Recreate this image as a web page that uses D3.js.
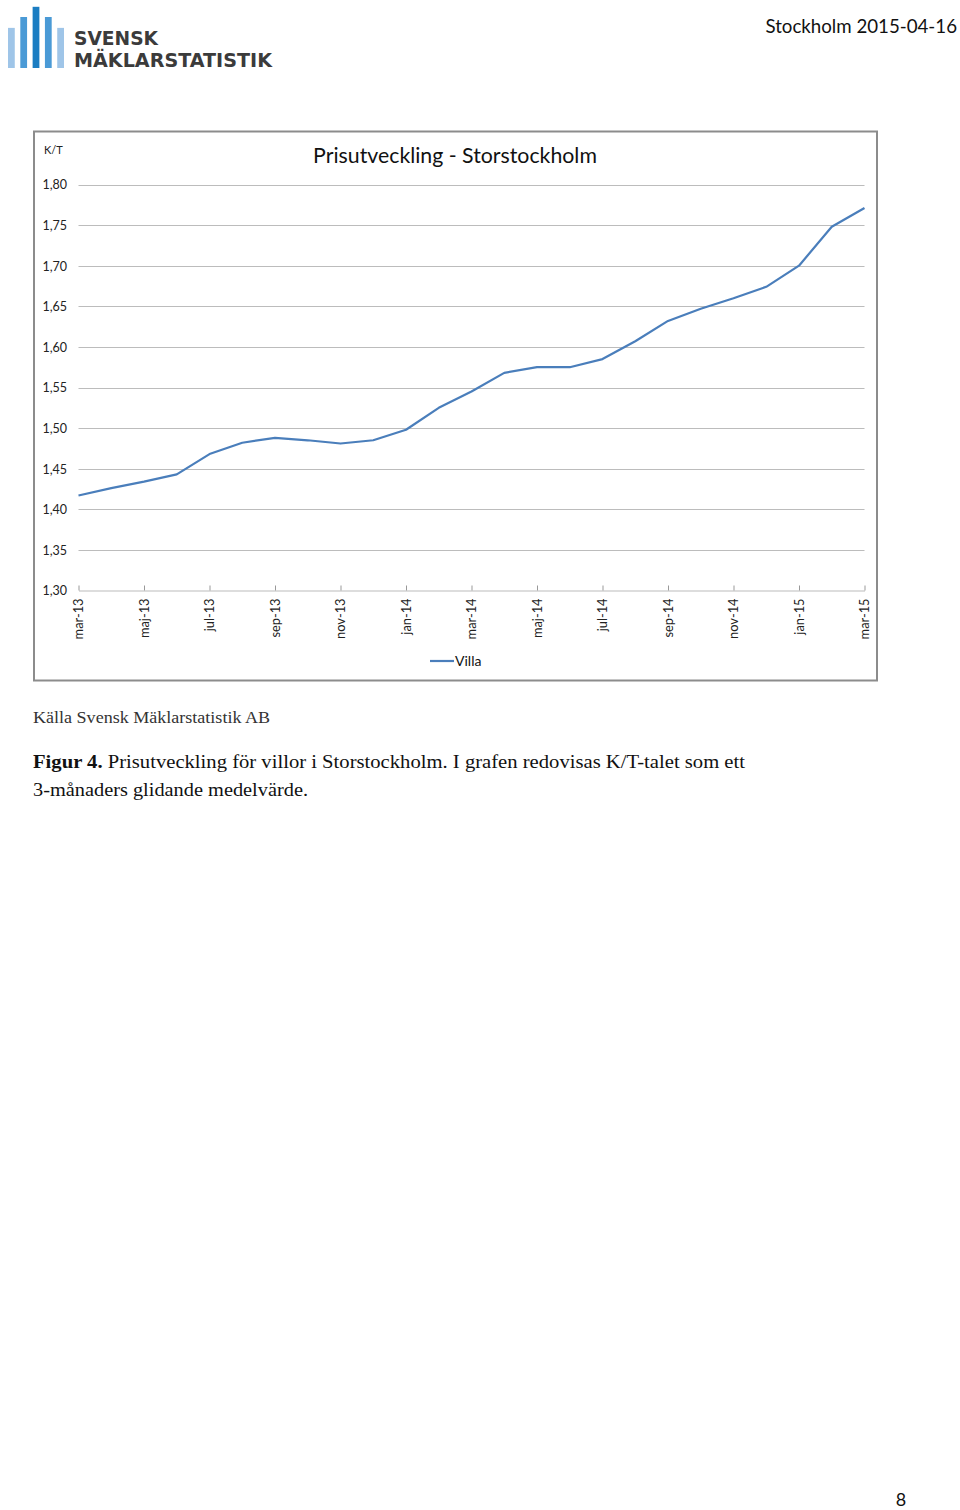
<!DOCTYPE html>
<html>
<head>
<meta charset="utf-8">
<script src="https://cdn.jsdelivr.net/npm/d3@7/dist/d3.min.js"></script>
<style>
html,body{margin:0;padding:0;background:#fff;}
svg{display:block;}
</style>
</head>
<body>
<script>
// ---- data ----
const months = ["mar-13","apr-13","maj-13","jun-13","jul-13","aug-13","sep-13","okt-13","nov-13","dec-13",
  "jan-14","feb-14","mar-14","apr-14","maj-14","jun-14","jul-14","aug-14","sep-14","okt-14","nov-14","dec-14",
  "jan-15","feb-15","mar-15"];
const villa = [1.417,1.426,1.434,1.443,1.468,1.482,1.488,1.485,1.481,1.485,
  1.498,1.525,1.545,1.568,1.575,1.575,1.585,1.607,1.632,1.647,1.660,1.674,
  1.700,1.748,1.771];
const tickLabels = ["mar-13","maj-13","jul-13","sep-13","nov-13","jan-14","mar-14","maj-14","jul-14","sep-14","nov-14","jan-15","mar-15"];
const yTicks = [1.30,1.35,1.40,1.45,1.50,1.55,1.60,1.65,1.70,1.75,1.80];
const seriesName = "Villa";
const chartTitle = "Prisutveckling - Storstockholm";
const yUnit = "K/T";
const logoBars = [0.59, 0.75, 0.90, 0.75, 0.59];
const logoShades = ["#9fc5e8","#4a9ad6","#1b7dc2","#4a9ad6","#9fc5e8"];

const W = 960, H = 1510;
const svg = d3.select("body").append("svg").attr("width", W).attr("height", H);
const sans = "Lato, 'Open Sans', sans-serif";
const serif = "'Liberation Serif', 'DejaVu Serif', serif";

// ---- logo ----
const lx = d3.scaleBand().domain(d3.range(logoBars.length)).range([8, 64]).paddingInner(0.45);
const ly = d3.scaleLinear().domain([0, 1]).range([68, 0]);
svg.append("g").selectAll("rect").data(logoBars).join("rect")
  .attr("x", (d,i) => lx(i)).attr("width", lx.bandwidth())
  .attr("y", d => ly(d)).attr("height", d => 68 - ly(d))
  .attr("fill", (d,i) => logoShades[i]);
svg.append("text").attr("x", 74).attr("y", 45).text("SVENSK")
  .attr("font-family", "'DejaVu Sans', sans-serif").attr("font-weight", "bold")
  .attr("font-size", 20).attr("fill", "#3b3b3b")
  .attr("textLength", 84).attr("lengthAdjust", "spacingAndGlyphs");
svg.append("text").attr("x", 74).attr("y", 67).text("MÄKLARSTATISTIK")
  .attr("font-family", "'DejaVu Sans', sans-serif").attr("font-weight", "bold")
  .attr("font-size", 20).attr("fill", "#3b3b3b")
  .attr("textLength", 198).attr("lengthAdjust", "spacingAndGlyphs");

// header
svg.append("text").attr("x", 957).attr("y", 33).attr("text-anchor", "end")
  .attr("font-family", sans).attr("font-size", 18.7).attr("fill", "#111")
  .text("Stockholm 2015-04-16");

// ---- chart frame ----
svg.append("rect").attr("x", 34).attr("y", 131.5).attr("width", 843).attr("height", 549)
  .attr("fill", "#fff").attr("stroke", "#8c8c8c").attr("stroke-width", 2);

const x = d3.scalePoint().domain(months).range([78.5, 864.5]);
const y = d3.scaleLinear().domain([1.30, 1.80]).range([590.5, 184.5]);

// gridlines
svg.append("g").selectAll("line").data(yTicks.filter(t => t > 1.30)).join("line")
  .attr("x1", 78.5).attr("x2", 864.5)
  .attr("y1", d => Math.round(y(d)) + 0.5).attr("y2", d => Math.round(y(d)) + 0.5)
  .attr("stroke", "#bcbcbc").attr("stroke-width", 1.2);

// y axis labels
const yAxis = d3.axisLeft(y).tickValues(yTicks).tickSize(0).tickPadding(0)
  .tickFormat(d => d3.format(".2f")(d).replace(".", ","));
const gy = svg.append("g").attr("transform", "translate(67,0)").call(yAxis);
gy.select(".domain").remove();
gy.selectAll("text").attr("font-family", sans).attr("font-size", 12.5).attr("fill", "#222").attr("dy", "0.35em");

// x axis
const xAxis = d3.axisBottom(x).tickValues(tickLabels).tickSizeInner(-5).tickSizeOuter(0).tickPadding(0);
const gx = svg.append("g").attr("transform", "translate(0,590.5)").call(xAxis);
gx.select(".domain").attr("stroke", "#bcbcbc").attr("stroke-width", 1.2);
gx.selectAll(".tick line").attr("stroke", "#999");
gx.selectAll("text")
  .attr("font-family", sans).attr("font-size", 12.8).attr("fill", "#222")
  .attr("transform", "rotate(-90)")
  .attr("text-anchor", "end").attr("x", -8).attr("y", 0).attr("dy", "0.35em");

// y unit
svg.append("text").attr("x", 44).attr("y", 154).text(yUnit)
  .attr("font-family", sans).attr("font-size", 11).attr("fill", "#222");

// title
svg.append("text").attr("x", 455).attr("y", 163).attr("text-anchor", "middle")
  .attr("font-family", sans).attr("font-size", 21.3).attr("fill", "#111").text(chartTitle);

// line
const line = d3.line().x((d,i) => x(months[i])).y(d => y(d));
svg.append("path").datum(villa).attr("d", line)
  .attr("fill", "none").attr("stroke", "#4a7ebb").attr("stroke-width", 2.2)
  .attr("stroke-linejoin", "round");

// legend
svg.append("line").attr("x1", 430).attr("x2", 454).attr("y1", 661).attr("y2", 661)
  .attr("stroke", "#4a7ebb").attr("stroke-width", 2.2);
svg.append("text").attr("x", 455).attr("y", 666).text(seriesName)
  .attr("font-family", sans).attr("font-size", 14).attr("fill", "#111");

// ---- captions ----
svg.append("text").attr("x", 33).attr("y", 723)
  .attr("font-family", serif).attr("font-size", 16).attr("fill", "#333")
  .attr("textLength", 237).attr("lengthAdjust", "spacingAndGlyphs")
  .text("Källa Svensk  Mäklarstatistik  AB");

const cap = svg.append("text").attr("x", 33).attr("y", 768)
  .attr("font-family", serif).attr("font-size", 19).attr("fill", "#111")
  .attr("textLength", 712).attr("lengthAdjust", "spacingAndGlyphs");
cap.append("tspan").attr("font-weight", "bold").text("Figur 4.");
cap.append("tspan").text(" Prisutveckling  för villor i Storstockholm. I grafen redovisas K/T-talet som ett");
svg.append("text").attr("x", 33).attr("y", 796)
  .attr("font-family", serif).attr("font-size", 19).attr("fill", "#111")
  .attr("textLength", 275).attr("lengthAdjust", "spacingAndGlyphs")
  .text("3-månaders glidande medelvärde.");

// page number
svg.append("text").attr("x", 901).attr("y", 1506).attr("text-anchor", "middle")
  .attr("font-family", sans).attr("font-size", 18).attr("fill", "#111").text("8");
</script>
</body>
</html>
